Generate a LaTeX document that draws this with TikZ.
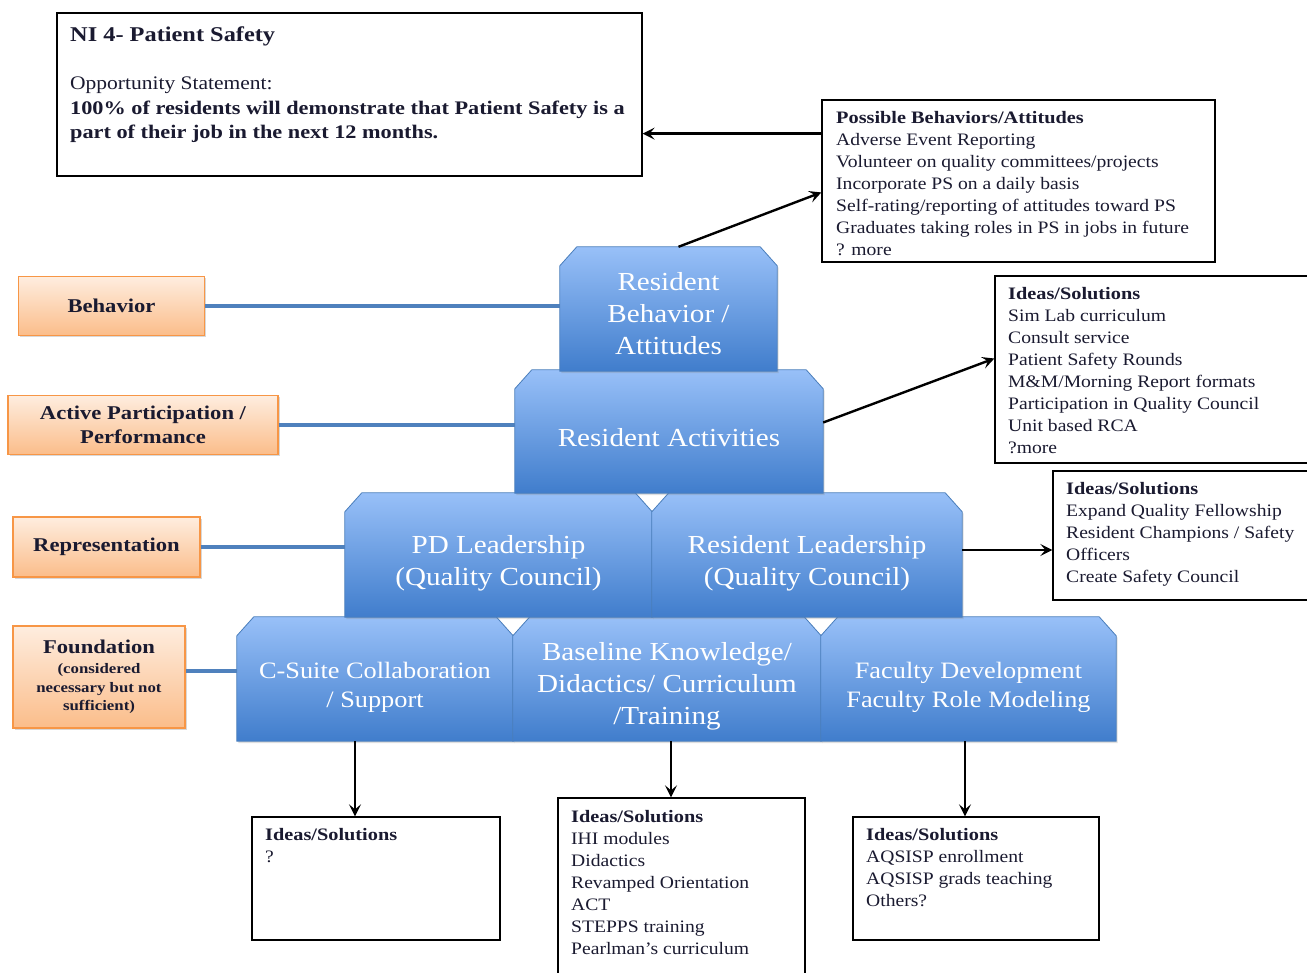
\documentclass[tikz,border=0pt]{standalone}
\usepackage{fontspec}
\setmainfont{Liberation Serif}[FakeStretch=1.12, BoldFeatures={FakeStretch=1.16}]
\usetikzlibrary{shadows,arrows.meta,calc}
\definecolor{btop}{HTML}{98C0F8}
\definecolor{bbot}{HTML}{407DCC}
\definecolor{bline}{HTML}{4A7EBB}
\definecolor{otop}{HTML}{FEEDDF}
\definecolor{obot}{HTML}{FBBD8A}
\definecolor{oline}{HTML}{F79646}
\definecolor{conn}{HTML}{4F81BD}
\definecolor{txt}{HTML}{1A1A30}
\newcommand\blockshape[1]{\path[blkfill] (#1.south west) -- ([yshift=-19pt]#1.north west) -- ([xshift=17pt]#1.north west) -- ([xshift=-17pt]#1.north east) -- ([yshift=-19pt]#1.north east) -- (#1.south east) -- cycle;}
\begin{document}
\begin{tikzpicture}[x=1pt,y=-1pt,
  blkbox/.style={rectangle, inner sep=0pt},
  blkfill/.style={draw=bline, line width=0.8pt, top color=btop, bottom color=bbot,
    drop shadow={opacity=0.25, shadow xshift=1.5pt, shadow yshift=-2pt}},
  blktext/.style={inner sep=0pt, align=center, text=white, font=\fontsize{26}{32}\selectfont},
  blksmall/.style={blktext, font=\fontsize{23.5}{29}\selectfont},
  obox/.style={rectangle, draw=oline, line width=1.2pt, top color=otop, bottom color=obot,
    drop shadow={opacity=0.3, shadow xshift=1.5pt, shadow yshift=-2pt},
    inner sep=0pt, align=center, text=txt, font=\bfseries\fontsize{19.5}{23.5}\selectfont},
  tbox/.style={rectangle, draw=black, line width=1.3pt, fill=white, inner sep=0pt},
  tlist/.style={anchor=north west, inner sep=0pt, align=left, text=txt, font=\fontsize{17.5}{22}\selectfont},
  link/.style={draw=conn, line width=3.5pt},
  arr/.style={draw=black, line width=2.4pt, -{Stealth[length=12pt,width=12pt,inset=5pt]}}
]
\clip (0,0) rectangle (1307,973);
\fill[white] (0,0) rectangle (1307,973);

% text boxes
\node[tbox, minimum width=585pt, minimum height=163pt] (ni) at (349.5,94.5) {};
\node[tbox, minimum width=393pt, minimum height=162pt] (pb) at (1018.5,181) {};
\node[tbox, minimum width=320pt, minimum height=187pt] (id1) at (1155,369.5) {};
\node[tbox, minimum width=262pt, minimum height=129pt] (id2) at (1184,535.5) {};
\node[tbox, minimum width=248pt, minimum height=123pt] (ia) at (376,878.5) {};
\node[tbox, minimum width=247pt, minimum height=187pt] (ib) at (681.5,891.5) {};
\node[tbox, minimum width=246pt, minimum height=123pt] (ic) at (976,878.5) {};

\node[tlist, font=\bfseries\fontsize{21}{25}\selectfont] (nititle) at (70,27) {NI 4- Patient Safety};
\node[tlist, font=\fontsize{19.2}{24.5}\selectfont] (nibody) at (70,77) {Opportunity Statement:\\
\textbf{100\% of residents will demonstrate that Patient Safety is a}\\
\textbf{part of their job in the next 12 months.}};

\node[tlist] (pbtext) at (836,111) {\textbf{Possible Behaviors/Attitudes}\\
Adverse Event Reporting\\
Volunteer on quality committees/projects\\
Incorporate PS on a daily basis\\
Self-rating/reporting of attitudes toward PS\\
Graduates taking roles in PS in jobs in future\\
? more};

\node[tlist] (id1text) at (1008,287) {\textbf{Ideas/Solutions}\\
Sim Lab curriculum\\
Consult service\\
Patient Safety Rounds\\
M\&M/Morning Report formats\\
Participation in Quality Council\\
Unit based RCA\\
?more};

\node[tlist] (id2text) at (1066,482) {\textbf{Ideas/Solutions}\\
Expand Quality Fellowship\\
Resident Champions / Safety\\
Officers\\
Create Safety Council};

\node[tlist] (iatext) at (265,828) {\textbf{Ideas/Solutions}\\ ?};

\node[tlist] (ibtext) at (571,810) {\textbf{Ideas/Solutions}\\
IHI modules\\
Didactics\\
Revamped Orientation\\
ACT\\
STEPPS training\\
Pearlman's curriculum};

\node[tlist] (ictext) at (866,828) {\textbf{Ideas/Solutions}\\
AQSISP enrollment\\
AQSISP grads teaching\\
Others?};

% orange boxes
\node[obox, minimum width=186pt, minimum height=59pt] (beh) at (111.5,306) {Behavior};
\node[obox, minimum width=270pt, minimum height=59pt] (act) at (143,425) {Active Participation /\\ Performance};
\node[obox, minimum width=187pt, minimum height=60pt] (rep) at (106.5,547) {Representation};
\node[obox, minimum width=172pt, minimum height=102pt, font=\bfseries\fontsize{14.5}{18.5}\selectfont] (fnd) at (99,677) {{\fontsize{19.5}{18.5}\selectfont Foundation}\\[2pt]
(considered\\ necessary but not\\ sufficient)};

% pyramid blocks: geometry nodes
\node[blkbox, minimum width=276pt, minimum height=124pt] (cs) at (375,679) {};
\node[blkbox, minimum width=308pt, minimum height=124pt] (bk) at (667,679) {};
\node[blkbox, minimum width=295pt, minimum height=124pt] (fd) at (968.5,679) {};
\node[blkbox, minimum width=307pt, minimum height=124pt] (pd) at (498.5,555) {};
\node[blkbox, minimum width=310pt, minimum height=124pt] (rl) at (807,555) {};
\node[blkbox, minimum width=308pt, minimum height=123pt] (ra) at (669,431.5) {};
\node[blkbox, minimum width=217pt, minimum height=124pt] (rb) at (668.5,309) {};

% block shapes (bottom rows first)
\blockshape{cs}
\blockshape{bk}
\blockshape{fd}
\blockshape{pd}
\blockshape{rl}
\blockshape{ra}
\blockshape{rb}

\node[blksmall] (cst) at ([yshift=-8pt]cs.center) {C-Suite Collaboration\\ / Support};
\node[blktext] (bkt) at ([yshift=-7pt]bk.center) {Baseline Knowledge/\\ Didactics/ Curriculum\\ /Training};
\node[blksmall] (fdt) at ([yshift=-8pt]fd.center) {Faculty Development\\ Faculty Role Modeling};
\node[blktext] (pdt) at ([yshift=-8pt]pd.center) {PD Leadership\\ (Quality Council)};
\node[blktext] (rlt) at ([yshift=-8pt]rl.center) {Resident Leadership\\ (Quality Council)};
\node[blktext] (rat) at ([yshift=-6pt]ra.center) {Resident Activities};
\node[blktext] (rbt) at ([yshift=-5pt]rb.center) {Resident\\ Behavior /\\ Attitudes};

% blue links
\draw[link] (beh.east) -- (beh.east -| rb.west);
\draw[link] (act.east) -- (act.east -| ra.west);
\draw[link] (rep.east) -- (rep.east -| pd.west);
\draw[link] ([yshift=6pt]fnd.east) -- ([yshift=6pt]fnd.east -| cs.west);

% arrows
\coordinate (pbin) at ($(pb.north west)!0.21!(pb.south west)$);
\coordinate (pbin2) at ($(pb.north west)!0.57!(pb.south west)$);
\draw[arr] (pbin) -- (pbin -| ni.east);
\draw[arr] ([xshift=10pt]rb.north) -- (pbin2);
\draw[arr] ([yshift=9pt]ra.east) -- ([yshift=11pt]id1.west);
\draw[arr] ([yshift=5pt]rl.east) -- ([yshift=5pt]rl.east -| id2.west);
\draw[arr] ([xshift=-20pt]cs.south) -- ([xshift=-20pt]cs.south |- ia.north);
\draw[arr] ([xshift=4pt]bk.south) -- ([xshift=4pt]bk.south |- ib.north);
\draw[arr] ([xshift=-3.5pt]fd.south) -- ([xshift=-3.5pt]fd.south |- ic.north);
\end{tikzpicture}
\end{document}
